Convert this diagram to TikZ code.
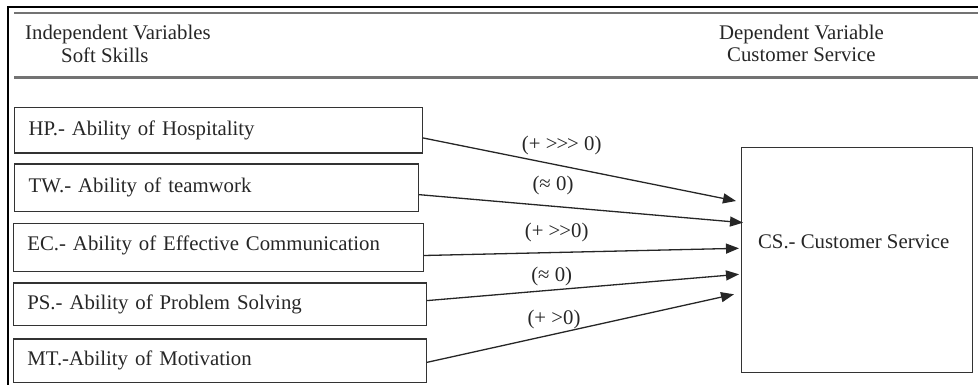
\documentclass[tikz,border=0pt]{standalone}
\usepackage{fontspec}
\setmainfont{Liberation Serif}
\usetikzlibrary{arrows.meta}
\begin{document}
\begin{tikzpicture}[x=1pt,y=-1pt,
  txt/.style={font=\fontsize{20.8}{21}\selectfont, text=black!85},
  box/.style={txt, draw=black!80, line width=1.3pt, anchor=north west,
    inner xsep=14pt, inner ysep=0pt, align=left},
  csbox/.style={txt, draw=black!80, line width=1.3pt, anchor=north west,
    inner sep=0pt, align=center},
  hdr/.style={txt, inner sep=0pt, anchor=west},
  lab/.style={txt, inner sep=0pt},
  frame/.style={draw=black, line width=1.8pt},
  rule/.style={draw=black!55, line width=2.4pt},
  arr/.style={draw=black!85, line width=1.3pt, -{Triangle[length=13pt,width=10pt]}}]
\useasboundingbox (0,0) rectangle (978,385);
% frame and header rules
\draw[frame] (8,385) -- (8,7) -- (978,7);
\draw[rule] (14,13.3) -- (978,13.3);
\draw[rule] (14,77.7) -- (978,77.7);
% header texts
\node[hdr] (iv) at (25,34) {Independent Variables};
\node[hdr] (ss) at (61,55) {Soft Skills};
\node[hdr] (dv) at (719,34) {Dependent Variable};
\node[hdr] (dcs) at (727,55) {Customer Service};
% independent variable boxes
\node[box, text width=379.7pt, minimum height=45.6pt] (hp) at (14,106.7) {HP.- Ability of Hospitality};
\node[box, text width=375.7pt, minimum height=47.4pt] (tw) at (14,163.3) {TW.- Ability of teamwork};
\node[box, text width=382pt, minimum height=48.3pt, text depth=9pt] (ec) at (12.7,222.7) {EC.- Ability of Effective Communication};
\node[box, text width=385pt, minimum height=42.7pt] (ps) at (12.7,282.3) {PS.- Ability of Problem Solving};
\node[box, text width=385pt, minimum height=43.4pt] (mt) at (12.7,338.3) {MT.-Ability of Motivation};
% dependent variable box
\node[csbox, minimum width=230.7pt, minimum height=225.3pt] (cs) at (741,146.7) {};
\node[lab] (cstext) at (853.7,241.7) {CS.- Customer Service};
% arrow end points
\coordinate (e1) at (736,201);
\coordinate (e2) at (743,222.7);
\coordinate (e3) at (739,248.3);
\coordinate (e4) at (739,274.3);
\coordinate (e5) at (734,294.3);
% connectors
\draw[arr] ([yshift=-7.8pt]hp.east) -- (e1);
\draw[arr] ([yshift=-7pt]tw.east) -- (e2);
\draw[arr] ([yshift=-8pt]ec.east) -- (e3);
\draw[arr] ([yshift=3.7pt]ps.east) -- (e4);
\draw[arr] ([yshift=-1.7pt]mt.east) -- (e5);
% labels
\node[lab] (l1) at (561.7,145.7) {(+ \textgreater\kern-1pt\textgreater\kern-1pt\textgreater\ 0)};
\node[lab] (l2) at (553,185.7) {(≈ 0)};
\node[lab] (l3) at (556.7,232.3) {(+ \textgreater\kern-1pt\textgreater 0)};
\node[lab] (l4) at (551.7,276.7) {(≈ 0)};
\node[lab] (l5) at (554,319) {(+ \textgreater 0)};
\end{tikzpicture}
\end{document}
